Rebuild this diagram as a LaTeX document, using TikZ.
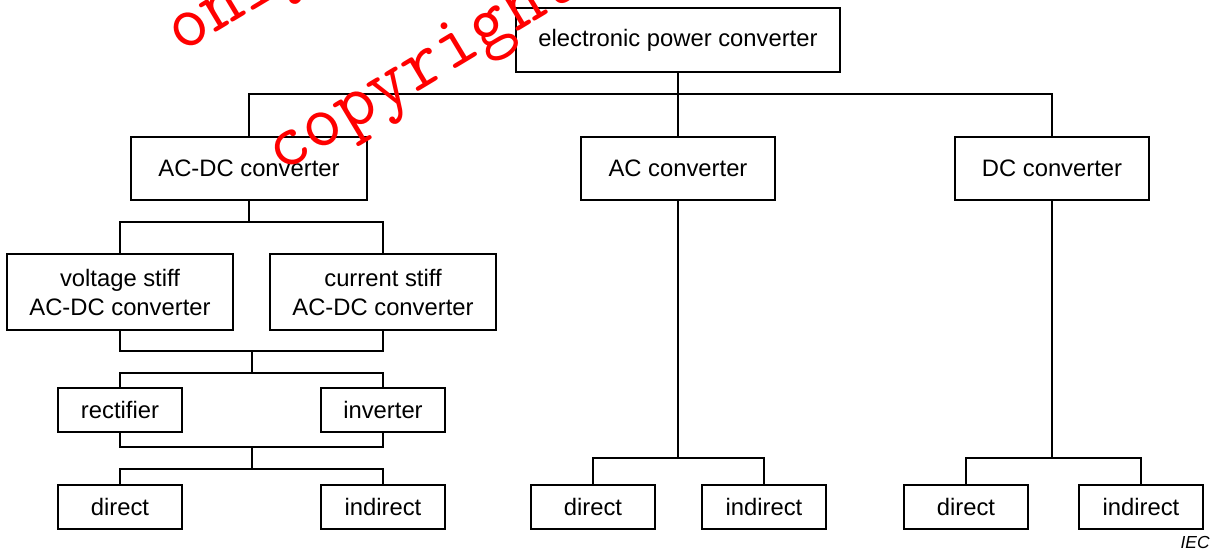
\documentclass[tikz,border=0pt]{standalone}
\usepackage{fontspec}
\setmainfont{Liberation Sans}
\usetikzlibrary{positioning}

\begin{document}
\begin{tikzpicture}[x=0.5pt, y=-0.5pt,
    box/.style={draw, line width=1.15pt, rectangle, inner sep=0pt, align=center,
      font=\fontsize{11.9}{14.5}\selectfont},
    link/.style={line width=1.15pt},
    wmark/.style={text=red, rotate=31, anchor=base west, inner sep=0pt,
      font=\ttfamily\fontsize{38}{38}\selectfont}]
    \useasboundingbox (0,0) rectangle (1214,551);

    % Boxes
    \node[box, minimum width=162pt, minimum height=32pt] (epc) at (678,40) {electronic power converter};
    \node[box, minimum width=118pt, minimum height=31.5pt] (acdc) at (249,168.5) {AC-DC converter};
    \node[box, minimum width=97pt, minimum height=31.5pt] (ac) at (678,168.5) {AC converter};
    \node[box, minimum width=97pt, minimum height=31.5pt] (dc) at (1052,168.5) {DC converter};
    \node[box, minimum width=113pt, minimum height=38pt] (vstiff) at (120,292) {voltage stiff\\AC-DC converter};
    \node[box, minimum width=113pt, minimum height=38pt] (cstiff) at (383,292) {current stiff\\AC-DC converter};
    \node[box, minimum width=62pt, minimum height=22pt] (rect) at (120,410) {rectifier};
    \node[box, minimum width=62pt, minimum height=22pt] (inv) at (383,410) {inverter};
    \node[box, minimum width=62pt, minimum height=22pt] (dirA) at (120,507) {direct};
    \node[box, minimum width=62pt, minimum height=22pt] (indA) at (383,507) {indirect};
    \node[box, minimum width=62pt, minimum height=22pt] (dirB) at (593,507) {direct};
    \node[box, minimum width=62pt, minimum height=22pt] (indB) at (764,507) {indirect};
    \node[box, minimum width=62pt, minimum height=22pt] (dirC) at (966,507) {direct};
    \node[box, minimum width=62pt, minimum height=22pt] (indC) at (1141,507) {indirect};

    % Bus points
    \coordinate (bus0) at (678,94);
    \coordinate (bus1) at (249,222);
    \coordinate (bus2) at (252,351);
    \coordinate (bus3) at (252,373);
    \coordinate (bus4) at (252,447);
    \coordinate (bus5) at (252,469);
    \coordinate (bus6) at (678,458);
    \coordinate (bus7) at (1052,458);

    % Connectors
    \draw[link] (epc) -- (bus0);
    \draw[link] (acdc.north) |- (bus0) -| (dc.north);
    \draw[link] (ac) -- (bus0);
    \draw[link] (acdc) -- (bus1);
    \draw[link] (vstiff.north) |- (bus1) -| (cstiff.north);
    \draw[link] (vstiff.south) |- (bus2) -| (cstiff.south);
    \draw[link] (bus2) -- (bus3);
    \draw[link] (rect.north) |- (bus3) -| (inv.north);
    \draw[link] (rect.south) |- (bus4) -| (inv.south);
    \draw[link] (bus4) -- (bus5);
    \draw[link] (dirA.north) |- (bus5) -| (indA.north);
    \draw[link] (ac) -- (bus6);
    \draw[link] (dirB.north) |- (bus6) -| (indB.north);
    \draw[link] (dc) -- (bus7);
    \draw[link] (dirC.north) |- (bus7) -| (indC.north);

    \node[anchor=south east, inner sep=0pt, font=\fontsize{8.7}{10}\selectfont\itshape] (iec) at (1210,549) {IEC};

    % Watermark
    \begin{scope}
      \clip (0,0) rectangle (1214,551);
      \node[wmark] (wmA) at (181,54) {only};
      \node[wmark] (wmB) at (281,174) {copyright};
    \end{scope}
\end{tikzpicture}
\end{document}
